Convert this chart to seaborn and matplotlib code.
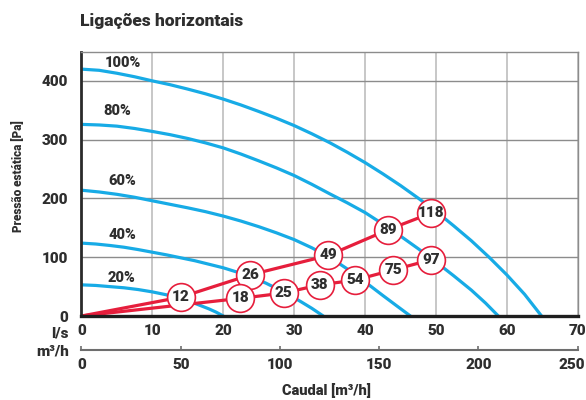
import matplotlib
matplotlib.use("Agg")
import matplotlib.pyplot as plt
import matplotlib.transforms as mtrans
import seaborn as sns
import pandas as pd

# ---- data ----
title = "Ligações horizontais"
ylabel = "Pressão estática [Pa]"
xlabel = "Caudal [m³/h]"

# fan curves: flow [l/s] -> static pressure [Pa]
q100 = [0, 2.5, 5, 7.5, 10, 12.5, 15, 17.5, 20, 22.5, 25, 27.5, 30, 32.5, 35,
        37.5, 40, 42.5, 45, 47.5, 50, 52.5, 55, 57.5, 60, 62.5, 64.9]
p100 = [420, 418, 413, 407, 400, 393.5, 386, 378, 369, 359, 348, 336.5, 324,
        310, 295, 278.5, 261, 242, 222, 200.5, 178, 153.5, 128, 100, 70, 37, 0]
q80 = [0, 2.5, 5, 7.5, 10, 12.5, 15, 17.5, 20, 22.5, 25, 27.5, 30, 32.5, 35,
       37.5, 40, 42.5, 45, 47.5, 50, 52.5, 55, 57, 58.8]
p80 = [326, 325, 323, 319, 314, 308.5, 302, 294.5, 286, 275.5, 264, 252, 239,
       224, 208, 192.5, 176, 156.5, 136, 114.5, 92, 68.5, 44, 22, 0]
q60 = [0, 2.5, 5, 7.5, 10, 12.5, 15, 17.5, 20, 22.5, 25, 27.5, 30, 32.5, 35,
       37.5, 40, 42.5, 44.5, 46.4]
p60 = [214, 211, 207, 202, 196, 190, 184, 177.5, 170, 161.5, 152, 141.5, 130,
       116, 100, 80, 58, 35, 17, 0]
q40 = [0, 2, 4, 6, 8, 10, 12, 14, 16, 18, 20, 22, 24, 26, 28, 29.5, 31, 32.5,
       34.1]
p40 = [124, 122.5, 120, 117, 113, 108.5, 104, 99, 94, 88, 82, 74.5, 66, 56,
       44, 34.5, 24, 13, 0]
q20 = [0, 2, 4, 6, 8, 10, 12, 14, 16, 18, 19, 20]
p20 = [53, 52, 50, 48, 45, 41, 36, 29.5, 21.5, 12, 6.5, 0]
curve_labels = ["100%", "80%", "60%", "40%", "20%"]
label_q = [5.8, 5.1, 5.8, 5.8, 5.7]
label_p = [431, 348, 229, 137, 65]

# system curves with labelled points
sysA_q = [0, 14.0, 23.8, 34.8, 43.3, 49.3]
sysA_p = [0, 32, 70, 103, 147, 175]
sysA_lab = ["", "12", "26", "49", "89", "118"]
sysB_q = [0, 22.4, 28.5, 33.6, 38.6, 44.0, 49.3]
sysB_p = [0, 30, 39, 53, 61, 78.5, 95.6]
sysB_lab = ["", "18", "25", "38", "54", "75", "97"]

ls_ticks = [0, 10, 20, 30, 40, 50, 60, 70]
m3h_ticks = [0, 50, 100, 150, 200, 250]
p_ticks = [0, 100, 200, 300, 400]

# ---- style ----
sns.set_theme(style="white")
plt.rcParams["font.family"] = ["Roboto", "DejaVu Sans"]
W = "heavy"
plt.rcParams["font.weight"] = W
TXT = "#2e2e2e"
BLUE = "#17abe6"
RED = "#e61e3c"

fig = plt.figure(figsize=(5.86, 4.0), dpi=100)
ax = fig.add_axes([81.5 / 586, 1 - 316 / 400, (577.7 - 81.5) / 586, (316 - 51.5) / 400])

fan = [(q100, p100), (q80, p80), (q60, p60), (q40, p40), (q20, p20)]
for (qq, pp) in fan:
    df = pd.DataFrame({"q": qq, "p": pp})
    sns.lineplot(data=df, x="q", y="p", ax=ax, color=BLUE, lw=2.3,
                 sort=False, estimator=None, zorder=2)

for name, qx, py in zip(curve_labels, label_q, label_p):
    ax.text(qx, py, name, ha="center", va="center", fontsize=10.5,
            fontweight=W, color=TXT, zorder=6)

for qq, pp, labs in [(sysA_q, sysA_p, sysA_lab), (sysB_q, sysB_p, sysB_lab)]:
    df = pd.DataFrame({"q": qq, "p": pp, "lab": labs})
    sns.lineplot(data=df, x="q", y="p", ax=ax, color=RED, lw=2.3,
                 sort=False, estimator=None, zorder=3)
    pts = df[df["lab"] != ""]
    sns.scatterplot(data=pts, x="q", y="p", ax=ax, s=400, color="white",
                    edgecolor=RED, linewidth=1.2, zorder=4)
    for _, r in pts.iterrows():
        ax.text(r["q"], r["p"], r["lab"], ha="center", va="center",
                fontsize=11, fontweight=W, color=TXT, zorder=5)

ax.set_xlim(0, 70)
ax.set_ylim(0, 450)
ax.set_xticks(ls_ticks)
ax.set_yticks(p_ticks)
ax.set_xticklabels([str(t) for t in ls_ticks])
ax.set_yticklabels([str(t) for t in p_ticks])
ax.set_xlabel("")
ax.set_ylabel("")
ax.grid(False)
for t in ls_ticks[1:]:
    ax.axvline(t, color="#bdbdbd", lw=1.2, zorder=1)
for t in p_ticks[1:]:
    ax.axhline(t, color="#8c8c8c", lw=1.0, zorder=1)

ax.tick_params(axis="both", length=0, labelsize=11, labelcolor=TXT)
ax.tick_params(axis="y", pad=9.5)
ax.tick_params(axis="x", pad=6)
for lab in ax.get_xticklabels() + ax.get_yticklabels():
    lab.set_fontweight(W)

ax.spines["left"].set_color("#2a2a2a")
ax.spines["left"].set_linewidth(2.0)
ax.spines["bottom"].set_color("#1e1e1e")
ax.spines["bottom"].set_linewidth(2.4)
for s in ["top", "right"]:
    ax.spines[s].set_color("#8c8c8c")
    ax.spines[s].set_linewidth(1.0)
for s in ax.spines.values():
    s.set_zorder(7)

# secondary flow axis in m3/h
sec = ax.secondary_xaxis(-34 / 264.5, functions=(lambda x: x * 250 / 70,
                                                 lambda x: x * 70 / 250))
sec.set_xticks(m3h_ticks)
sec.set_xticklabels([str(t) for t in m3h_ticks])
sec.tick_params(direction="in", length=3, width=1.2, color="#6e6e6e",
                labelsize=11, labelcolor=TXT, pad=6)
sec.spines["bottom"].set_color("#6e6e6e")
sec.spines["bottom"].set_linewidth(1.5)
sec_labels = sec.get_xticklabels()
for lab in sec_labels:
    lab.set_fontweight(W)
# keep the last label inside the figure
sec_labels[-1].set_transform(sec_labels[-1].get_transform() +
                             mtrans.ScaledTranslation(-6 / 100, 0, fig.dpi_scale_trans))

fig.text(69 / 586, 1 - 333 / 400, "l/s", ha="right", va="center",
         fontsize=11, fontweight=W, color=TXT)
fig.text(69 / 586, 1 - 352 / 400, "m³/h", ha="right", va="center",
         fontsize=11, fontweight=W, color=TXT)
fig.text(80 / 586, 1 - 21 / 400, title, ha="left", va="center",
         fontsize=12.5, fontweight=W, color=TXT)
fig.text(19 / 586, 1 - 176 / 400, ylabel, ha="center", va="center",
         rotation=90, fontsize=8.5, fontweight=W, color=TXT)
fig.text(326 / 586, 1 - 391 / 400, xlabel, ha="center", va="center",
         fontsize=10.5, fontweight=W, color=TXT)

fig.savefig("out.png", dpi=100)
